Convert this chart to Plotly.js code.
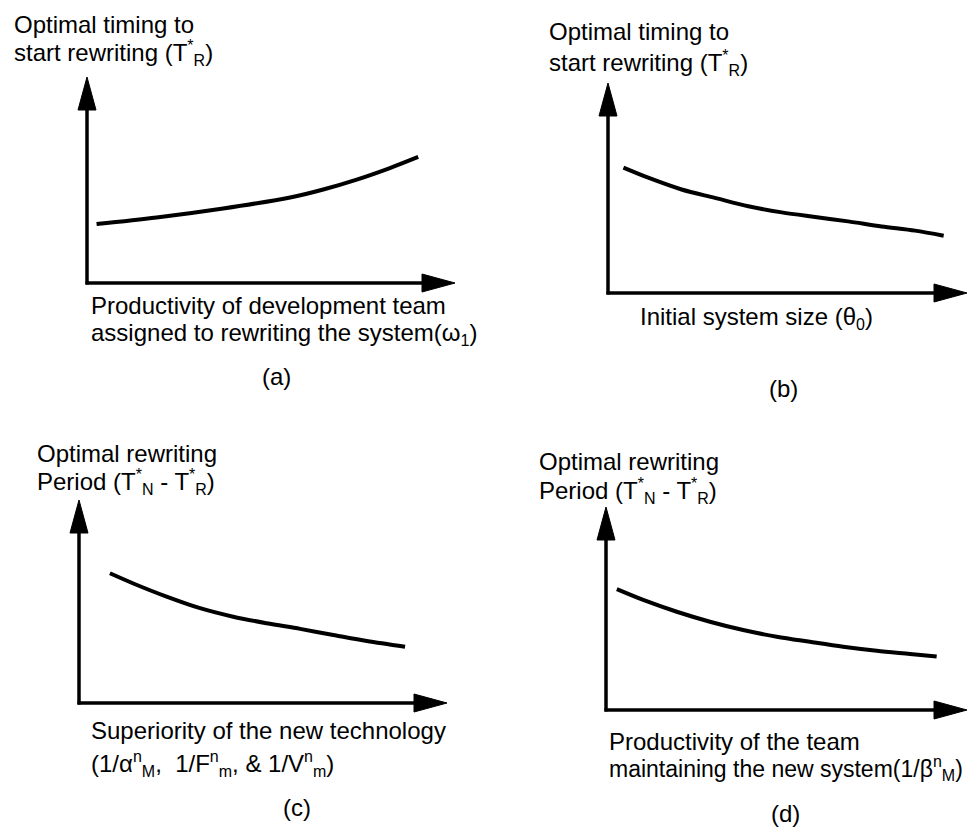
<!DOCTYPE html>
<html>
<head>
<meta charset="utf-8">
<script src="https://cdn.plot.ly/plotly-3.0.1.min.js"></script>
<style>html,body{margin:0;padding:0;background:#fff;}#chart{width:967px;height:828px;}</style>
</head>
<body>
<div id="chart"></div>
<script>
// ---- data (arbitrary units) ----
var panelA_x = [0.26, 1.89, 3.70, 5.52, 6.42, 7.33, 8.23, 9.0];
var panelA_y = [2.86, 3.18, 3.62, 4.15, 4.54, 5.02, 5.58, 6.12];
var panelB_x = [0.43, 1.12, 2.05, 2.98, 3.91, 4.84, 5.77, 6.69, 7.62, 8.55, 9.35];
var panelB_y = [5.97, 5.49, 4.93, 4.53, 4.13, 3.84, 3.62, 3.41, 3.17, 2.97, 2.73];
var panelC_x = [0.84, 1.46, 2.38, 3.29, 4.19, 5.10, 6.01, 6.91, 7.82, 8.86];
var panelC_y = [6.39, 5.90, 5.24, 4.67, 4.25, 3.93, 3.65, 3.35, 3.05, 2.77];
var panelD_x = [0.30, 1.03, 1.96, 2.88, 3.80, 4.73, 5.65, 6.57, 7.50, 8.42, 9.16];
var panelD_y = [5.95, 5.42, 4.84, 4.35, 3.94, 3.61, 3.36, 3.12, 2.92, 2.76, 2.63];

function sp(s) { return "<sup><span style=\"font-size:16px\">" + s + "</span></sup>"; }
function sb(s) { return "<sub><span style=\"font-size:16px\">" + s + "</span></sub>"; }

var yTitles = [
  ["Optimal timing to", "start rewriting (T" + sp("*") + sb("R") + ")"],
  ["Optimal timing to", "start rewriting (T" + sp("*") + sb("R") + ")"],
  ["Optimal rewriting", "Period (T" + sp("*") + sb("N") + " - T" + sp("*") + sb("R") + ")"],
  ["Optimal rewriting", "Period (T" + sp("*") + sb("N") + " - T" + sp("*") + sb("R") + ")"]
];
var xTitles = [
  ["Productivity of development team", "assigned to rewriting the system(ω" + sb("1") + ")"],
  ["Initial system size (θ" + sb("0") + ")"],
  ["Superiority of the new technology",
   "(1/α" + sp("n") + sb("M") + ",  1/F" + sp("n") + sb("m") + ", &amp; 1/V" + sp("n") + sb("m") + ")"],
  ["Productivity of the team", "maintaining the new system(1/β" + sp("n") + sb("M") + ")"]
];
var panelLabels = ["(a)", "(b)", "(c)", "(d)"];

// ---- layout geometry (pixels) ----
var W = 967, H = 828;
function fx(px) { return px / W; }
function fy(py) { return 1 - py / H; }

var geo = [
  {ax: 87,  xy: 283, top: 77,  right: 455},
  {ax: 608, xy: 293, top: 83,  right: 967},
  {ax: 79,  xy: 703, top: 500, right: 447},
  {ax: 606, xy: 710, top: 507, right: 967}
];
var titlePos = [
  {x: 12,  y: [24, 53]},
  {x: 547, y: [32, 63]},
  {x: 35,  y: [453, 482]},
  {x: 537, y: [461, 491]}
];
var xlabPos = [
  {x: 89,  y: [305, 334], size: [24, 24]},
  {x: 638, y: [318], size: [24]},
  {x: 89,  y: [730, 764], size: [24, 24]},
  {x: 607, y: [741, 768], size: [24, 23]}
];
var labPos = [
  {x: 276, y: 376},
  {x: 783, y: 388},
  {x: 297, y: 807},
  {x: 785, y: 813}
];

var xs = [panelA_x, panelB_x, panelC_x, panelD_x];
var ys = [panelA_y, panelB_y, panelC_y, panelD_y];

var traces = [];
var layout = {
  width: W, height: H,
  margin: {l: 0, r: 0, t: 0, b: 0},
  paper_bgcolor: "#fff", plot_bgcolor: "rgba(0,0,0,0)",
  showlegend: false,
  font: {family: "Liberation Sans, Arial, sans-serif", size: 24, color: "#000"},
  shapes: [], annotations: []
};

var arrowLen = 33, arrowHalf = 9;
for (var i = 0; i < 4; i++) {
  var g = geo[i];
  var xa = i === 0 ? "x" : "x" + (i + 1);
  var ya = i === 0 ? "y" : "y" + (i + 1);
  var xKey = i === 0 ? "xaxis" : "xaxis" + (i + 1);
  var yKey = i === 0 ? "yaxis" : "yaxis" + (i + 1);
  layout[xKey] = {domain: [fx(g.ax), fx(g.right)], range: [0, 10], visible: false, fixedrange: true, anchor: ya};
  layout[yKey] = {domain: [fy(g.xy), fy(g.top)], range: [0, 10], visible: false, fixedrange: true, anchor: xa};

  traces.push({
    type: "scatter", mode: "lines", x: xs[i], y: ys[i], xaxis: xa, yaxis: ya,
    line: {color: "#000", width: 4, shape: "spline", smoothing: 0.9}, hoverinfo: "skip"
  });

  layout.shapes.push({type: "line", xref: "paper", yref: "paper",
    x0: fx(g.ax), y0: fy(g.xy + 1.5), x1: fx(g.ax), y1: fy(g.top + arrowLen - 1),
    line: {color: "#000", width: 3.5}});
  layout.shapes.push({type: "line", xref: "paper", yref: "paper",
    x0: fx(g.ax - 1.5), y0: fy(g.xy), x1: fx(g.right - arrowLen + 1), y1: fy(g.xy),
    line: {color: "#000", width: 3.5}});
  layout.shapes.push({type: "path", xref: "paper", yref: "paper",
    path: "M " + fx(g.ax - arrowHalf) + "," + fy(g.top + arrowLen) +
          " L " + fx(g.ax) + "," + fy(g.top) +
          " L " + fx(g.ax + arrowHalf) + "," + fy(g.top + arrowLen) + " Z",
    fillcolor: "#000", line: {color: "#000", width: 1}});
  layout.shapes.push({type: "path", xref: "paper", yref: "paper",
    path: "M " + fx(g.right - arrowLen) + "," + fy(g.xy - arrowHalf) +
          " L " + fx(g.right) + "," + fy(g.xy) +
          " L " + fx(g.right - arrowLen) + "," + fy(g.xy + arrowHalf) + " Z",
    fillcolor: "#000", line: {color: "#000", width: 1}});

  var t = titlePos[i];
  for (var k = 0; k < yTitles[i].length; k++) {
    layout.annotations.push({text: yTitles[i][k], xref: "paper", yref: "paper", x: fx(t.x), y: fy(t.y[k]),
      xanchor: "left", yanchor: "middle", showarrow: false});
  }
  var xl = xlabPos[i];
  for (var m = 0; m < xTitles[i].length; m++) {
    layout.annotations.push({text: xTitles[i][m], xref: "paper", yref: "paper", x: fx(xl.x), y: fy(xl.y[m]),
      xanchor: "left", yanchor: "middle", showarrow: false, font: {size: xl.size[m]}});
  }
  layout.annotations.push({text: panelLabels[i], xref: "paper", yref: "paper", x: fx(labPos[i].x), y: fy(labPos[i].y),
    xanchor: "center", yanchor: "middle", showarrow: false});
}

Plotly.newPlot("chart", traces, layout, {staticPlot: true, displayModeBar: false});
</script>
</body>
</html>
